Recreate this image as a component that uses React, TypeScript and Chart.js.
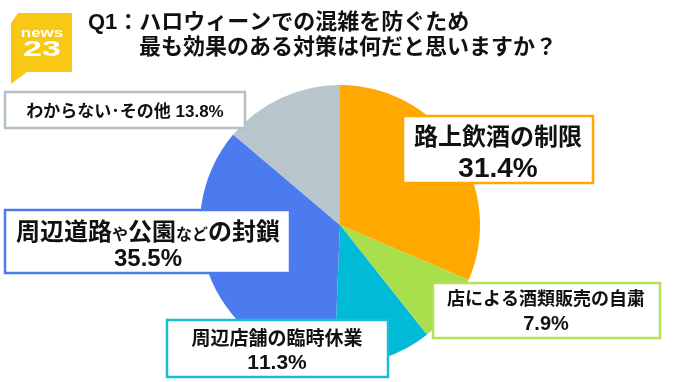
import React, { useEffect, useRef } from "react";
import { Chart, registerables } from "chart.js";
Chart.register(...registerables);

const categories = ["路上飲酒の制限", "店による酒類販売の自粛", "周辺店舗の臨時休業", "周辺道路や公園などの封鎖", "わからない･その他"];
const values = [31.4, 7.9, 11.3, 35.5, 13.8];
const sliceColors = ["#FFA800", "#A9DE4C", "#00BAD8", "#4B7BEE", "#B9C5CC"];
const boxBorderColors = ["#FFA800", "#B4E05A", "#1DBCD6", "#4B7BEE", "#B4C0C8"];
const titleLines = ["Q1：ハロウィーンでの混雑を防ぐため", "最も効果のある対策は何だと思いますか？"];
const logoWord = "news";
const logoNumber = "23";

// layout for the label boxes (positions only)
const boxes = [
  { x: 403, y: 116, w: 190, h: 67, s1: 24, s2: 28, cy1: 136, cy2: 167, cx: 498, single: false, small: "" },
  { x: 433, y: 283, w: 227, h: 55, s1: 18, s2: 20, cy1: 299, cy2: 323, cx: 546, single: false, small: "" },
  { x: 167, y: 320, w: 221, h: 57, s1: 19, s2: 21, cy1: 338, cy2: 361, cx: 277, single: false, small: "" },
  { x: 5, y: 210, w: 285, h: 63, s1: 24, s2: 24, cy1: 231, cy2: 257, cx: 148, single: false, small: "やなど" },
  { x: 5, y: 92, w: 240, h: 36, s1: 17, s2: 17, cy1: 111, cy2: 111, cx: 125, single: true, small: "" },
];

const FONT = '"Liberation Sans", "Noto Sans CJK JP", sans-serif';
const f = (s: number) => `bold ${s}px ${FONT}`;

function drawRich(ctx: CanvasRenderingContext2D, text: string, cx: number, cy: number, size: number, small: string) {
  const smallSize = Math.round(size * 0.68);
  const runs = Array.from(text).map((ch) => ({ ch, s: small.includes(ch) ? smallSize : size }));
  let total = 0;
  runs.forEach((r) => {
    ctx.font = f(r.s);
    total += ctx.measureText(r.ch).width;
  });
  let x = cx - total / 2;
  ctx.textAlign = "left";
  ctx.textBaseline = "alphabetic";
  runs.forEach((r) => {
    ctx.font = f(r.s);
    ctx.fillText(r.ch, x, cy + size * 0.36);
    x += ctx.measureText(r.ch).width;
  });
}

const overlayPlugin = {
  id: "overlay",
  afterDraw(chart: any) {
    const ctx: CanvasRenderingContext2D = chart.ctx;
    ctx.save();
    // logo
    ctx.fillStyle = "#F7C914";
    ctx.beginPath();
    ctx.moveTo(18, 13);
    ctx.lineTo(72, 13);
    ctx.lineTo(72, 72);
    ctx.lineTo(27, 72);
    ctx.lineTo(11, 84);
    ctx.lineTo(11, 23);
    ctx.closePath();
    ctx.fill();
    ctx.fillStyle = "#FFFFFF";
    ctx.textAlign = "center";
    ctx.textBaseline = "middle";
    ctx.save();
    ctx.translate(42, 33);
    ctx.scale(1.3, 1);
    ctx.font = `bold 13px ${FONT}`;
    ctx.fillText(logoWord, 0, 0);
    ctx.restore();
    ctx.save();
    ctx.translate(42, 50);
    ctx.scale(1.55, 1);
    ctx.font = `bold 22px ${FONT}`;
    ctx.fillText(logoNumber, 0, 0);
    ctx.restore();

    // title
    ctx.fillStyle = "#111111";
    ctx.textAlign = "left";
    ctx.textBaseline = "middle";
    ctx.font = f(22);
    ctx.fillText(titleLines[0], 88, 23);
    ctx.fillText(titleLines[1], 139, 48);

    // label boxes
    boxes.forEach((b, i) => {
      ctx.fillStyle = "#FFFFFF";
      ctx.fillRect(b.x, b.y, b.w, b.h);
      ctx.strokeStyle = boxBorderColors[i];
      ctx.lineWidth = 2.5;
      ctx.strokeRect(b.x, b.y, b.w, b.h);
      ctx.fillStyle = "#111111";
      const pct = values[i].toFixed(1) + "%";
      if (b.single) {
        drawRich(ctx, categories[i] + " " + pct, b.cx, b.cy1, b.s1, b.small);
      } else {
        drawRich(ctx, categories[i], b.cx, b.cy1, b.s1, b.small);
        drawRich(ctx, pct, b.cx, b.cy2, b.s2, "");
      }
    });
    ctx.restore();
  },
};

export default function App() {
  const ref = useRef<HTMLCanvasElement | null>(null);
  useEffect(() => {
    if (!ref.current) return;
    const chart = new Chart(ref.current, {
      type: "pie",
      data: {
        labels: categories,
        datasets: [
          {
            data: values,
            backgroundColor: sliceColors,
            borderWidth: 0,
          },
        ],
      },
      options: {
        animation: false,
        responsive: false,
        devicePixelRatio: 1,
        layout: { padding: { top: 85, bottom: 17, left: 200, right: 200 } },
        plugins: {
          legend: { display: false },
          tooltip: { enabled: false },
        },
      },
      plugins: [overlayPlugin],
    });
    return () => chart.destroy();
  }, []);
  return (
    <div style={{ position: "absolute", left: 0, top: 0, width: 680, height: 382, background: "#fff" }}>
      <canvas ref={ref} width={680} height={382} />
    </div>
  );
}
